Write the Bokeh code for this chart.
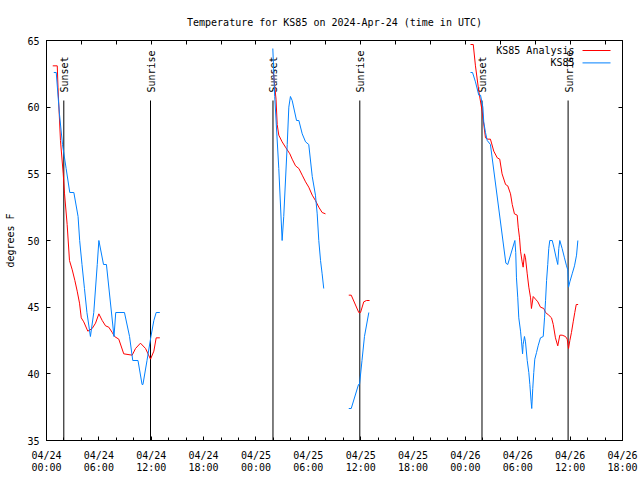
import numpy as np
import pandas as pd
from math import pi
from bokeh.plotting import figure
from bokeh.models import Range1d, FixedTicker, LinearAxis, Label, Arrow
from bokeh.core.properties import value
from bokeh.embed import file_html
from bokeh.resources import INLINE

YEAR = "2024-"
FONT = "DejaVu Sans Mono"

# ---- data (times in UTC, "MM-DD HH:MM"; None marks a gap) ----
analysis_time = [
    "04-24 00:43", "04-24 01:14", "04-24 01:19", "04-24 01:36", "04-24 01:55", "04-24 02:04",
    "04-24 02:22", "04-24 02:38", "04-24 02:57", "04-24 03:15", "04-24 03:31", "04-24 03:47",
    "04-24 03:59", "04-24 04:16", "04-24 04:44", "04-24 05:14", "04-24 05:37", "04-24 06:00",
    "04-24 06:23", "04-24 06:46", "04-24 07:08", "04-24 07:32", "04-24 07:48", "04-24 08:17",
    "04-24 08:51", "04-24 09:49", "04-24 10:12", "04-24 10:46", "04-24 11:21", "04-24 11:55",
    "04-24 12:18", "04-24 12:34", "04-24 12:59",
    "04-24 13:30",
    "04-25 01:59", "04-25 02:18", "04-25 02:26", "04-25 02:37", "04-25 03:00", "04-25 03:23",
    "04-25 03:53", "04-25 04:09", "04-25 04:32", "04-25 04:55", "04-25 05:18", "04-25 05:41",
    "04-25 06:03", "04-25 06:27", "04-25 06:49", "04-25 07:12", "04-25 07:35", "04-25 07:58",
    "04-25 09:00",
    "04-25 10:38", "04-25 10:55", "04-25 11:47", "04-25 11:59", "04-25 12:21", "04-25 12:40",
    "04-25 13:01",
    "04-25 18:00",
    "04-26 00:35", "04-26 00:54", "04-26 01:09", "04-26 01:32", "04-26 01:55", "04-26 02:18",
    "04-26 02:34", "04-26 02:52", "04-26 03:15", "04-26 03:39", "04-26 03:56", "04-26 04:12",
    "04-26 04:36", "04-26 04:51", "04-26 05:10", "04-26 05:22", "04-26 05:37", "04-26 05:56",
    "04-26 06:03", "04-26 06:12", "04-26 06:19", "04-26 06:30", "04-26 06:37", "04-26 06:46",
    "04-26 06:53", "04-26 07:05", "04-26 07:16", "04-26 07:28", "04-26 07:34", "04-26 07:46",
    "04-26 08:02", "04-26 08:18", "04-26 08:36", "04-26 08:59", "04-26 09:11", "04-26 09:33",
    "04-26 09:52", "04-26 10:04", "04-26 10:19", "04-26 10:35", "04-26 10:49", "04-26 11:05",
    "04-26 11:28", "04-26 11:40", "04-26 11:49", "04-26 11:58", "04-26 12:09", "04-26 12:21",
    "04-26 12:32", "04-26 12:42", "04-26 12:55",
]
analysis_temp = [
    63.1, 63.1, 61.5, 57.5, 55.0, 53.5,
    51.2, 48.5, 47.8, 47.0, 46.2, 45.3,
    44.2, 43.9, 43.2, 43.4, 43.8, 44.5,
    44.0, 43.6, 43.5, 43.1, 42.8, 42.6,
    41.5, 41.4, 41.9, 42.3, 41.9, 41.1,
    41.7, 42.7, 42.7,
    None,
    62.7, 60.6, 58.7, 57.9, 57.4, 57.0,
    56.5, 56.1, 55.6, 55.4, 54.9, 54.4,
    54.0, 53.4, 53.0, 52.5, 52.1, 52.0,
    None,
    45.9, 45.9, 44.6, 44.6, 45.4, 45.5,
    45.5,
    None,
    64.7, 64.7, 63.1, 61.2, 59.7, 57.7,
    57.6, 57.6, 56.7, 56.2, 56.1, 55.0,
    54.2, 54.1, 53.5, 52.7, 52.0, 51.9,
    51.0, 50.2, 49.2, 48.4, 48.0, 49.0,
    48.7, 47.5, 46.5, 45.7, 44.9, 45.8,
    45.6, 45.4, 45.0, 44.9, 44.6, 44.4,
    44.2, 43.7, 42.7, 42.1, 42.9, 42.9,
    42.8, 42.6, 41.9, 42.5, 43.1, 43.9,
    44.6, 45.2, 45.2,
]

obs_time = [
    "04-24 00:50", "04-24 01:07", "04-24 01:29", "04-24 01:50", "04-24 02:15", "04-24 02:40",
    "04-24 03:08", "04-24 03:37", "04-24 03:48", "04-24 04:04", "04-24 04:21", "04-24 04:38",
    "04-24 05:02", "04-24 05:25", "04-24 05:49", "04-24 06:00", "04-24 06:32", "04-24 06:52",
    "04-24 07:44", "04-24 07:56", "04-24 08:56", "04-24 09:31", "04-24 09:53", "04-24 10:29",
    "04-24 10:57", "04-24 11:03", "04-24 11:31", "04-24 11:58", "04-24 12:18", "04-24 12:34",
    "04-24 12:59",
    "04-24 13:30",
    "04-25 01:56", "04-25 02:09", "04-25 02:37", "04-25 03:00", "04-25 03:11", "04-25 03:35",
    "04-25 03:46", "04-25 03:57", "04-25 04:09", "04-25 04:39", "04-25 04:55", "04-25 05:18",
    "04-25 05:41", "04-25 06:03", "04-25 06:27", "04-25 06:49", "04-25 07:01", "04-25 07:12",
    "04-25 07:24", "04-25 07:35", "04-25 07:46",
    "04-25 09:00",
    "04-25 10:38", "04-25 10:55", "04-25 11:45", "04-25 11:52", "04-25 12:09", "04-25 12:26",
    "04-25 12:56",
    "04-25 18:00",
    "04-26 00:35", "04-26 00:49", "04-26 01:09", "04-26 01:32", "04-26 01:44", "04-26 02:00",
    "04-26 02:06", "04-26 02:18", "04-26 02:30", "04-26 02:52", "04-26 04:38", "04-26 04:51",
    "04-26 05:40", "04-26 05:46", "04-26 05:51", "04-26 06:00", "04-26 06:07", "04-26 06:19",
    "04-26 06:26", "04-26 06:33", "04-26 06:37", "04-26 06:46", "04-26 06:53", "04-26 07:05",
    "04-26 07:16", "04-26 07:23", "04-26 07:32", "04-26 07:36", "04-26 07:43", "04-26 07:50",
    "04-26 07:57", "04-26 08:09", "04-26 08:20", "04-26 08:36", "04-26 08:55", "04-26 09:04",
    "04-26 09:11", "04-26 09:18", "04-26 09:26", "04-26 09:33", "04-26 09:40", "04-26 09:57",
    "04-26 10:08", "04-26 10:26", "04-26 10:35", "04-26 10:42", "04-26 10:49", "04-26 11:05",
    "04-26 11:21", "04-26 11:35", "04-26 11:44", "04-26 11:49", "04-26 11:58", "04-26 12:14",
    "04-26 12:30", "04-26 12:44", "04-26 12:53",
]
obs_temp = [
    62.6, 62.6, 59.5, 57.2, 55.4, 53.6,
    53.6, 51.8, 50.0, 48.2, 46.4, 44.6,
    42.8, 44.6, 48.2, 50.0, 48.2, 48.2,
    42.8, 44.6, 44.6, 42.8, 41.0, 41.0,
    39.2, 39.2, 41.0, 42.8, 44.0, 44.6,
    44.6,
    None,
    64.4, 60.8, 55.4, 50.0, 51.8, 57.2,
    60.0, 60.8, 60.5, 59.0, 59.0, 58.0,
    57.4, 57.2, 54.8, 53.4, 52.0, 50.0,
    48.5, 47.5, 46.4,
    None,
    37.4, 37.4, 39.2, 39.2, 41.0, 42.8,
    44.6,
    None,
    62.6, 62.6, 61.9, 60.9, 60.9, 60.0,
    58.9, 58.1, 57.5, 57.2, 48.3, 48.2,
    50.0, 49.1, 47.2, 45.7, 44.2, 43.2,
    42.4, 41.5, 42.2, 42.8, 42.4, 41.0,
    40.1, 39.2, 37.9, 37.4, 38.9, 40.1,
    41.1, 41.6, 42.1, 42.7, 42.8, 44.2,
    45.5, 47.0, 48.2, 49.4, 50.0, 50.0,
    49.5, 48.6, 48.2, 49.4, 50.0, 49.4,
    48.7, 48.1, 47.8, 46.5, 46.9, 47.5,
    48.1, 48.9, 50.0,
]

sun_event_time = ["04-24 01:59", "04-24 11:55", "04-25 01:57", "04-25 11:54", "04-26 01:54", "04-26 11:46"]
sun_event_name = ["Sunset", "Sunrise", "Sunset", "Sunrise", "Sunset", "Sunrise"]

x_tick_time = ["04-24 00:00", "04-24 06:00", "04-24 12:00", "04-24 18:00",
               "04-25 00:00", "04-25 06:00", "04-25 12:00", "04-25 18:00",
               "04-26 00:00", "04-26 06:00", "04-26 12:00", "04-26 18:00"]
x_tick_labels = ["04/24\n00:00", "04/24\n06:00", "04/24\n12:00", "04/24\n18:00",
                 "04/25\n00:00", "04/25\n06:00", "04/25\n12:00", "04/25\n18:00",
                 "04/26\n00:00", "04/26\n06:00", "04/26\n12:00", "04/26\n18:00"]
y_ticks = [35, 40, 45, 50, 55, 60, 65]

series_names = ["KS85 Analysis", "KS85"]
series_colors = ["#ff0000", "#0080ff"]


def to_dt(ts):
    return pd.to_datetime([YEAR + t for t in ts])


def to_ms(dts):
    return [int(d.value // 10**6) for d in dts]


ax_x = to_dt(analysis_time)
ax_y = np.array(analysis_temp, dtype=float)
ob_x = to_dt(obs_time)
ob_y = np.array(obs_temp, dtype=float)
ev_x = to_dt(sun_event_time)
tick_dt = to_dt(x_tick_time)
tick_ms = to_ms(tick_dt)

x_start, x_end = tick_dt[0], tick_dt[-1]
y_lo, y_hi = y_ticks[0], y_ticks[-1]
x0_ms, x1_ms = tick_ms[0], tick_ms[-1]

minor_ms = to_ms(pd.date_range(x_start, x_end, freq="2h"))
top_ms = to_ms(pd.date_range(x_start, x_end, freq="4h"))

W, H = 640, 480
p = figure(width=W, height=H, output_backend="svg", toolbar_location=None,
           x_axis_type=None, y_axis_type=None,
           x_range=Range1d(x_start, x_end), y_range=Range1d(y_lo, y_hi),
           min_border_left=46, min_border_right=18, min_border_top=40, min_border_bottom=40)
p.outline_line_color = "black"
p.outline_line_width = 1
p.background_fill_color = "white"
p.border_fill_color = "white"

p.title.text = "Temperature for KS85 on 2024-Apr-24 (time in UTC)"
p.title.align = "center"
p.title.text_font = FONT
p.title.text_font_size = "10px"
p.title.text_font_style = "normal"
p.title.text_color = "black"
p.title.standoff = 25


def style_axis(ax):
    ax.axis_line_color = "black"
    ax.major_tick_line_color = "black"
    ax.minor_tick_line_color = "black"
    ax.major_tick_out = 0
    ax.minor_tick_out = 0
    ax.major_label_text_font = FONT
    ax.major_label_text_font_size = "10px"
    ax.major_label_text_color = "black"
    ax.axis_label_text_font = FONT
    ax.axis_label_text_font_size = "10px"
    ax.axis_label_text_font_style = "normal"
    ax.axis_label_text_color = "black"


xb = LinearAxis(ticker=FixedTicker(ticks=tick_ms, minor_ticks=minor_ms),
                major_label_overrides=dict(zip(tick_ms, x_tick_labels)))
style_axis(xb)
xb.major_tick_in = 4
xb.minor_tick_in = 3
xb.major_label_standoff = 9
xb.major_label_text_line_height = 1.15
p.add_layout(xb, "below")

xt = LinearAxis(ticker=FixedTicker(ticks=top_ms, minor_ticks=[]),
                major_label_overrides={t: "" for t in top_ms})
style_axis(xt)
xt.major_tick_in = 4
xt.major_label_standoff = 0
p.add_layout(xt, "above")

yl = LinearAxis(ticker=FixedTicker(ticks=y_ticks, minor_ticks=[]), axis_label="degrees F")
style_axis(yl)
yl.major_tick_in = 4
yl.major_label_standoff = 7
yl.axis_label_standoff = 8
p.add_layout(yl, "left")

yr = LinearAxis(ticker=FixedTicker(ticks=y_ticks, minor_ticks=[]),
                major_label_overrides={t: "" for t in y_ticks})
style_axis(yr)
yr.major_tick_in = 4
yr.major_label_standoff = 0
p.add_layout(yr, "right")

# sunset / sunrise markers, drawn up to 85% of the plot height
y_mark = y_lo + 0.85 * (y_hi - y_lo)
p.segment(x0=ev_x, y0=[y_lo] * len(ev_x), x1=ev_x, y1=[y_mark] * len(ev_x),
          line_color="black", line_width=1)
p.text(x=ev_x, y=[y_mark] * len(ev_x), text=sun_event_name, angle=pi / 2,
       text_font=value(FONT), text_font_size="10px", text_color="black",
       text_align="left", text_baseline="middle", y_offset=-8, x_offset=1)

# data lines
p.line(ax_x, ax_y, line_color=series_colors[0], line_width=1)
p.line(ob_x, ob_y, line_color=series_colors[1], line_width=1)


# gnuplot-style key in the top right: text right-aligned, then a line sample
def gx(f):
    return x0_ms + (x1_ms - x0_ms) * f


def gy(f):
    return y_lo + (y_hi - y_lo) * f


key_text_right = 0.9167
key_line = (0.9306, 0.9792)
key_rows = [0.975, 0.944]
for name, color, fy in zip(series_names, series_colors, key_rows):
    p.add_layout(Label(x=gx(key_text_right), y=gy(fy), text=name,
                       text_align="right", text_baseline="middle",
                       text_font=FONT, text_font_size="10px", text_color="black"))
    p.add_layout(Arrow(start=None, end=None, x_start=gx(key_line[0]), x_end=gx(key_line[1]),
                       y_start=gy(fy), y_end=gy(fy), line_color=color, line_width=1))

open("out.html", "w").write(file_html(p, INLINE))
